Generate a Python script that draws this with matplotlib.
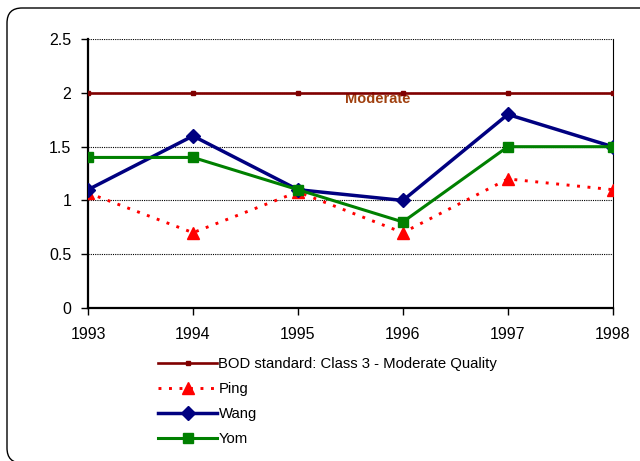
import matplotlib.pyplot as plt
from matplotlib.patches import FancyBboxPatch

plt.rcParams['font.family'] = ['Liberation Sans', 'DejaVu Sans']

years = [1993, 1994, 1995, 1996, 1997, 1998]
bod_standard = [2.0, 2.0, 2.0, 2.0, 2.0, 2.0]
ping = [1.07, 0.7, 1.08, 0.7, 1.2, 1.1]
wang = [1.1, 1.6, 1.1, 1.0, 1.8, 1.5]
yom = [1.4, 1.4, 1.1, 0.8, 1.5, 1.5]

fig = plt.figure(figsize=(6.4, 4.61), dpi=100)

# rounded frame around the chart area (in inches, runs off the right/bottom edge)
frame = FancyBboxPatch((0.07, -0.02), 6.53, 4.55,
                       boxstyle='round,pad=0,rounding_size=0.15',
                       transform=fig.dpi_scale_trans, facecolor='white',
                       edgecolor='black', linewidth=1.0, zorder=-10)
fig.patches.append(frame)

ax = fig.add_axes([0.1375, 0.332, 0.82, 0.583])

ax.plot(years, bod_standard, color='#800000', lw=1.9, marker='s', ms=3.5,
        label='BOD standard: Class 3 - Moderate Quality', zorder=3)
ax.plot(years, ping, color='#ff0000', lw=2.1, ls=(0, (1, 2.6)), marker='^', ms=8.5,
        label='Ping', zorder=4)
ax.plot(years, wang, color='#000080', lw=2.5, marker='D', ms=7,
        label='Wang', zorder=5)
ax.plot(years, yom, color='#008000', lw=2.2, marker='s', ms=6.5,
        label='Yom', zorder=6)

ax.text(1995.757, 1.945, 'Moderate', color='#a0400f', fontsize=10.5,
        fontweight='bold', ha='center', va='center', zorder=2)

ax.set_xlim(1993, 1998)
ax.set_ylim(0, 2.5)
ax.set_xticks(years)
ax.set_yticks([0, 0.5, 1, 1.5, 2, 2.5])
ax.set_yticklabels(['0', '0.5', '1', '1.5', '2', '2.5'])
ax.tick_params(labelsize=11.5, direction='out', length=5, width=1)
ax.tick_params(axis='x', pad=9)
ax.tick_params(axis='y', pad=7)
ax.grid(axis='y', color='black', ls=(0, (1, 1)), lw=0.8)
ax.set_axisbelow(True)
for side in ['left', 'bottom']:
    ax.spines[side].set_linewidth(1.6)
ax.spines['right'].set_linewidth(0.8)
ax.spines['top'].set_visible(False)

ax.legend(loc='upper left', bbox_to_anchor=(158 / 640, 1 - 357 / 461),
          bbox_transform=fig.transFigure, frameon=False,
          fontsize=10.7, handlelength=4.0, handletextpad=0.07,
          labelspacing=0.74, borderaxespad=0, borderpad=0)

fig.savefig('out.png', dpi=100)
